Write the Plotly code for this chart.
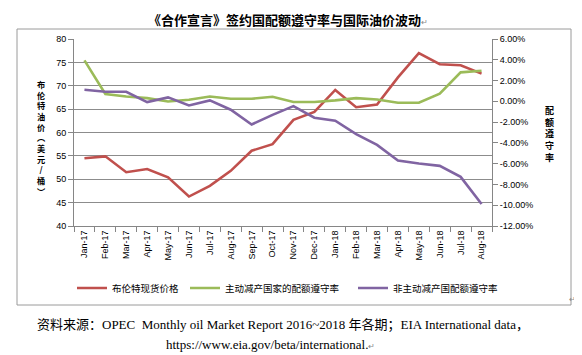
import plotly.graph_objects as go

# ---------------- data ----------------
months = ["Jan-17", "Feb-17", "Mar-17", "Apr-17", "May-17", "Jun-17", "Jul-17", "Aug-17",
          "Sep-17", "Oct-17", "Nov-17", "Dec-17", "Jan-18", "Feb-18", "Mar-18", "Apr-18",
          "May-18", "Jun-18", "Jul-18", "Aug-18"]

brent = [54.5, 54.9, 51.5, 52.2, 50.4, 46.3, 48.6, 51.8, 56.1, 57.5,
         62.7, 64.4, 69.1, 65.4, 66.0, 71.8, 77.0, 74.6, 74.4, 72.6]
active = [3.94, 0.70, 0.47, 0.31, -0.01, 0.15, 0.47, 0.25, 0.25, 0.44,
          -0.07, -0.07, 0.09, 0.31, 0.18, -0.14, -0.14, 0.73, 2.79, 2.95]
nonactive = [1.11, 0.92, 0.92, -0.07, 0.38, -0.40, 0.09, -0.81, -2.23, -1.30,
             -0.46, -1.58, -1.87, -3.16, -4.19, -5.70, -5.99, -6.21, -7.27, -9.88]

left_ticks = [40, 45, 50, 55, 60, 65, 70, 75, 80]
right_ticks = [-12, -10, -8, -6, -4, -2, 0, 2, 4, 6]

names = ["布伦特现货价格", "主动减产国家的配额遵守率", "非主动减产国配额遵守率"]
colors = ["#C0504D", "#9BBB59", "#8064A2"]

title_text = "《合作宣言》签约国配额遵守率与国际油价波动"
left_title = "布伦特油价︵美元/桶︶"
right_title = "配额遵守率"
source1 = "资料来源：OPEC  Monthly oil Market Report 2016~2018 年各期；EIA International data，"
source2 = "https://www.eia.gov/beta/international."

# ---------------- layout geometry (page pixels; browser body has an 8px margin) ----------------
OFF = 8
W, H = 582 - OFF, 355 - OFF
L, R, T, B = 74, 492, 39, 226          # plot area in page pixels
PW, PH = R - L, B - T


def px(x):
    return (x - L) / PW


def py(y):
    return (B - y) / PH


cjk = "Noto Sans CJK SC"
axis_font = dict(family="Liberation Sans, Arial", size=9, color="#000000")

fig = go.Figure()
series = [(brent, "y"), (active, "y2"), (nonactive, "y2")]
for i, ((vals, yax), nm, col) in enumerate(zip(series, names, colors)):
    fig.add_trace(go.Scatter(
        x=months, y=vals, name=nm, mode="lines", yaxis=yax,
        line=dict(color=col, width=2.6),
        legend="legend" if i == 0 else f"legend{i+1}",
    ))

fig.update_layout(
    width=W, height=H,
    margin=dict(l=L - OFF, r=W - (R - OFF), t=T - OFF, b=H - (B - OFF), autoexpand=False),
    paper_bgcolor="white", plot_bgcolor="white",
    showlegend=True,
    xaxis=dict(
        type="category", tickangle=-90, tickfont=axis_font,
        showgrid=False, showline=True, linecolor="#868686", linewidth=1,
        ticks="outside", ticklen=5, tickcolor="#868686", tickson="boundaries",
        range=[-0.5, len(months) - 0.5], zeroline=False,
    ),
    yaxis=dict(
        range=[40, 80], tickvals=left_ticks, tickfont=axis_font,
        showgrid=True, gridcolor="#8c8c8c", gridwidth=1,
        showline=True, linecolor="#868686", linewidth=1,
        ticks="outside", ticklen=5, tickcolor="#868686", zeroline=False,
    ),
    yaxis2=dict(
        range=[-12, 6], tickvals=right_ticks,
        ticktext=[f"{v:.2f}%" for v in right_ticks], tickfont=axis_font,
        overlaying="y", side="right", showgrid=False,
        showline=True, linecolor="#868686", linewidth=1,
        ticks="outside", ticklen=5, tickcolor="#868686", zeroline=False,
    ),
)

leg_font = dict(family=cjk, size=9.5, color="#000000")
leg_x = [72, 185, 353]
for i, lx in enumerate(leg_x):
    key = "legend" if i == 0 else f"legend{i+1}"
    fig.update_layout(**{key: dict(
        x=px(lx), y=py(288), xanchor="left", yanchor="middle",
        orientation="h", font=leg_font, bgcolor="rgba(0,0,0,0)",
        borderwidth=0, tracegroupgap=0,
    )})

# chart border
fig.add_shape(type="rect", xref="paper", yref="paper",
              x0=px(17), x1=px(571), y0=py(305), y1=py(29),
              line=dict(color="#9a9a9a", width=1), layer="below")

ann = []
ann.append(dict(text="<b>" + title_text + "</b><span style='font-size:8px;color:#888'>↵</span>",
                x=px(288), y=py(OFF), xref="paper", yref="paper",
                xanchor="center", yanchor="top", showarrow=False,
                font=dict(family=cjk, size=13, color="#000000")))
# vertical axis titles (stacked characters)
ann.append(dict(text="<b>" + "<br>".join(left_title) + "</b>", x=px(41), y=py(137),
                xref="paper", yref="paper", xanchor="center", yanchor="middle",
                showarrow=False, font=dict(family=cjk, size=8.2, color="#000000")))
ann.append(dict(text="<b>" + "<br>".join(right_title) + "</b>", x=px(549), y=py(134),
                xref="paper", yref="paper", xanchor="center", yanchor="middle",
                showarrow=False, font=dict(family=cjk, size=9, color="#000000")))
ann.append(dict(text=source1, x=px(283), y=py(325), xref="paper", yref="paper",
                xanchor="center", yanchor="middle", showarrow=False,
                font=dict(family="Liberation Serif, Noto Sans CJK SC", size=13, color="#000000")))
ann.append(dict(text=source2 + "<span style='font-size:8px;color:#888'>↵</span>",
                x=px(270), y=py(344), xref="paper", yref="paper",
                xanchor="center", yanchor="middle", showarrow=False,
                font=dict(family="Liberation Serif", size=13, color="#000000")))
ann.append(dict(text="↵", x=px(572), y=py(299), xref="paper", yref="paper",
                xanchor="center", yanchor="middle", showarrow=False,
                font=dict(family="Liberation Sans", size=8, color="#888888")))
fig.update_layout(annotations=ann)

fig.write_html("out.html")
